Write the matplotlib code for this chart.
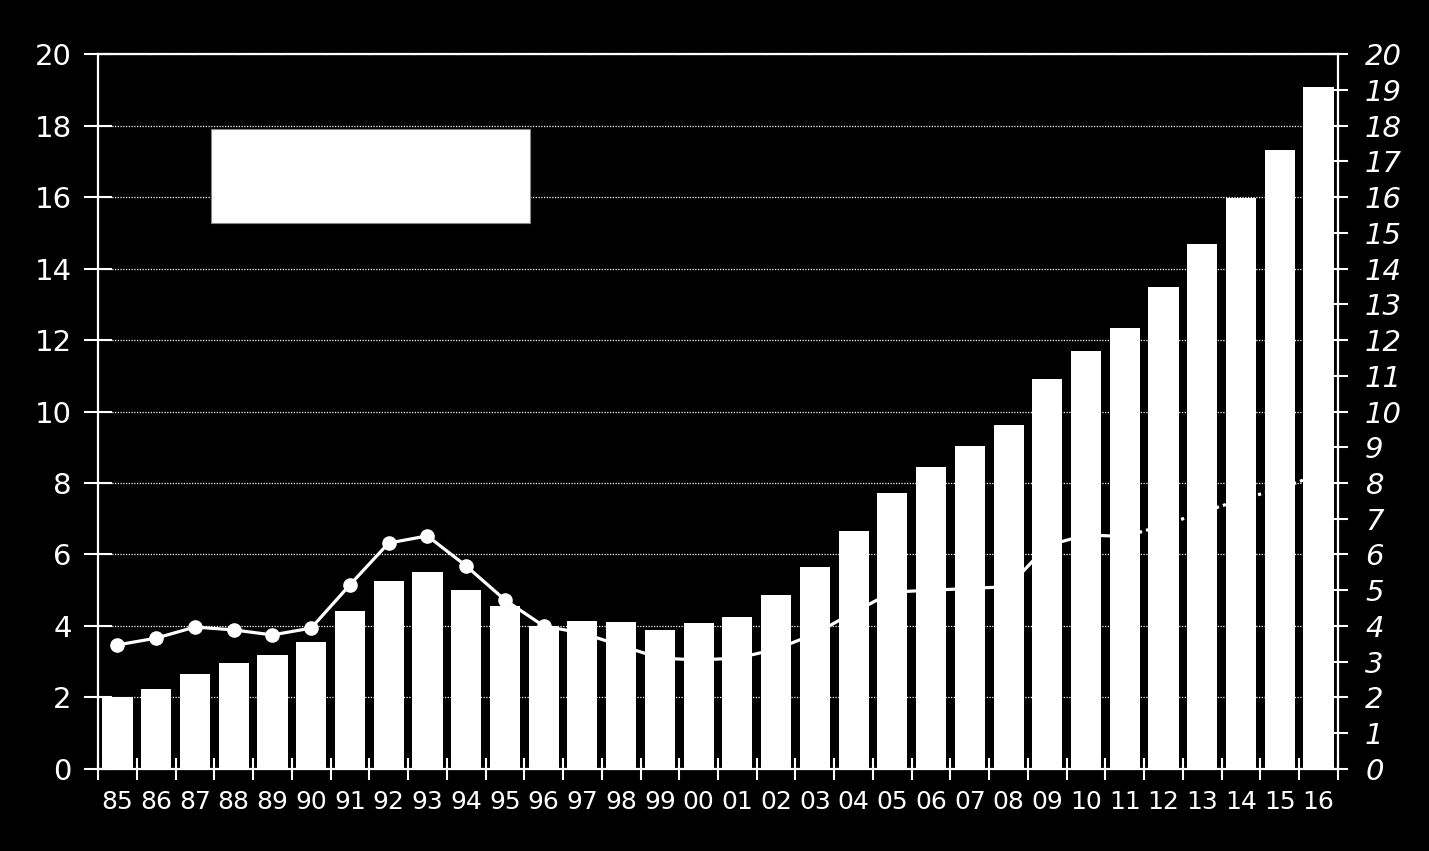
import numpy as np
import matplotlib.pyplot as plt
from matplotlib.patches import Rectangle

years = ['85', '86', '87', '88', '89', '90', '91', '92', '93', '94', '95',
         '96', '97', '98', '99', '00', '01', '02', '03', '04', '05', '06',
         '07', '08', '09', '10', '11', '12', '13', '14', '15', '16']

bars = [2.0, 2.25, 2.66, 2.97, 3.19, 3.55, 4.42, 5.26, 5.51, 5.01, 4.56,
        4.0, 4.14, 4.11, 3.89, 4.08, 4.24, 4.87, 5.65, 6.66, 7.72, 8.45,
        9.03, 9.62, 10.91, 11.69, 12.34, 13.48, 14.69, 15.97, 17.31, 19.07]

line = [3.47, 3.66, 3.97, 3.89, 3.75, 3.94, 5.15, 6.32, 6.52, 5.68, 4.73,
        4.0, 3.8, 3.45, 3.1, 3.05, 3.1, 3.35, 3.78, 4.38, 4.95, 5.0,
        5.05, 5.1, 6.25, 6.55, 6.5, 6.82, 7.18, 7.54, 7.84, 8.24]

# from this year on the line is drawn dotted
dash_from = 26

x = np.arange(len(years))

fig = plt.figure(figsize=(14.29, 8.51), dpi=100, facecolor='black')
ax = fig.add_axes([0.0686, 0.0964, 0.8677, 0.8401])
ax.set_facecolor('black')

ax.plot(x[:dash_from + 1], line[:dash_from + 1], color='white', lw=2.3,
        marker='o', markersize=9.5, zorder=2)
ax.plot(x[dash_from:], line[dash_from:], color='white', lw=2.3,
        linestyle=(0, (1.0, 1.3)), zorder=2)
ax.bar(x, bars, width=0.78, color='white', zorder=3)

ax.set_xlim(-0.5, len(years) - 0.5)
ax.set_ylim(0, 20)
ax.set_yticks(np.arange(0, 21, 2))
ax.yaxis.grid(True, color='white', linestyle=(0, (1, 1.2)), lw=0.9)
ax.set_axisbelow(True)

ax.set_xticks(np.arange(-0.5, len(years) + 0.5, 1))
ax.set_xticklabels([])
ax.set_xticks(x, minor=True)
ax.set_xticklabels(years, minor=True)
ax.tick_params(axis='x', which='major', direction='inout', length=16,
               width=1.5, color='white')
ax.tick_params(axis='x', which='minor', length=0, pad=15, labelsize=18,
               labelcolor='white')
ax.tick_params(axis='y', direction='inout', length=20, width=1.5,
               color='white', labelcolor='white', labelsize=21, pad=9)

for s in ax.spines.values():
    s.set_color('white')
    s.set_linewidth(1.6)

ax2 = ax.twinx()
ax2.set_ylim(0, 20)
ax2.set_yticks(np.arange(0, 21, 1))
ax2.tick_params(axis='y', direction='inout', length=15, width=1.5,
                color='white', labelcolor='white', labelsize=21, pad=12)
for lab in ax2.get_yticklabels():
    lab.set_fontstyle('italic')
for s in ax2.spines.values():
    s.set_visible(False)

# empty legend box
ax.add_patch(Rectangle((0.091, 0.764), 0.257, 0.131, transform=ax.transAxes,
                       facecolor='white', edgecolor='#888888', lw=0.8,
                       zorder=5))

fig.savefig('out.png', dpi=100, facecolor='black')
